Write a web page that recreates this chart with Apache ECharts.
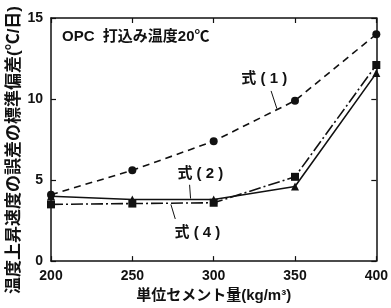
<!DOCTYPE html>
<html>
<head>
<meta charset="utf-8">
<script src="https://cdn.jsdelivr.net/npm/echarts@6/dist/echarts.min.js"></script>
<style>
  html, body { margin: 0; padding: 0; background: #fff; }
  #main { width: 391px; height: 308px; }
</style>
</head>
<body>
<div id="main"></div>
<script>
(function(){

  // 単位セメント量 (kg/m3)
  var cement = [200, 250, 300, 350, 400];
  // 式(1) 破線・丸
  var eq1 = [4.1, 5.6, 7.4, 9.9, 14.0];
  // 式(2) 実線・三角
  var eq2 = [4.0, 3.8, 3.8, 4.6, 11.6];
  // 式(4) 一点鎖線・四角
  var eq4 = [3.5, 3.55, 3.6, 5.2, 12.1];

  var xTicks = [200, 250, 300, 350, 400];
  var yTicks = [0, 5, 10, 15];

  var FONT = "'Liberation Sans', 'Noto Sans CJK JP', sans-serif";
  var INK = '#111';

  function pairs(ys){
    var out = [];
    for(var i=0; i<cement.length; i++){
      out.push([cement[i], ys[i]]);
    }
    return out;
  }

  function leader(a, b){
    return [{coord: a}, {coord: b}];
  }

  function note(text, at){
    return {
      coord: at,
      symbol: 'rect',
      symbolSize: 0,
      label: {
        show: true,
        position: 'inside',
        formatter: text,
        color: INK,
        fontFamily: FONT,
        fontWeight: 'bold',
        fontSize: 15
      }
    };
  }

  var axisBase = {
    type: 'value',
    axisLine: { show: true, onZero: false, lineStyle: { color: INK, width: 1.5 } },
    axisTick: { show: true, inside: true, length: 5, lineStyle: { color: INK, width: 1.2 } },
    splitLine: { show: false }
  };

  var option = {
    animation: false,
    backgroundColor: '#fff',
    grid: { left: 51, right: 9, top: 18, bottom: 42 },
    xAxis: [
      Object.assign({}, axisBase, {
        min: xTicks[0], max: xTicks[xTicks.length-1], interval: 50,
        position: 'bottom',
        axisLabel: { color: INK, fontFamily: FONT, fontWeight: 'bold', fontSize: 14, margin: 8 },
        name: '単位セメント量(kg/m³)',
        nameLocation: 'middle',
        nameGap: 26,
        nameTextStyle: { color: INK, fontFamily: FONT, fontWeight: 'bold', fontSize: 15 }
      }),
      Object.assign({}, axisBase, {
        min: xTicks[0], max: xTicks[xTicks.length-1], interval: 50,
        position: 'top',
        axisLabel: { show: false }
      })
    ],
    yAxis: [
      Object.assign({}, axisBase, {
        min: yTicks[0], max: yTicks[yTicks.length-1], interval: 5,
        position: 'left',
        axisLabel: { color: INK, fontFamily: FONT, fontWeight: 'bold', fontSize: 14, margin: 8 }
      }),
      Object.assign({}, axisBase, {
        min: yTicks[0], max: yTicks[yTicks.length-1], interval: 5,
        position: 'right',
        axisLabel: { show: false }
      })
    ],
    graphic: [
      {
        type: 'text',
        left: 62, top: 29,
        style: { text: 'OPC  打込み温度20℃', fill: INK, font: 'bold 15px ' + FONT }
      },
      {
        type: 'text',
        x: 14, y: 150,
        rotation: Math.PI / 2,
        style: {
          text: '温度上昇速度の誤差の標準偏差(℃/日)',
          fill: INK,
          font: 'bold 17px ' + FONT,
          align: 'center',
          verticalAlign: 'middle'
        }
      }
    ],
    series: [
      {
        name: '式(1)',
        type: 'line',
        data: pairs(eq1),
        symbol: 'circle',
        symbolSize: 8,
        itemStyle: { color: INK },
        lineStyle: { color: INK, width: 1.6, type: [7, 5] },
        markLine: {
          silent: true, symbol: ['none', 'none'], label: { show: false },
          lineStyle: { color: INK, width: 1, type: 'solid' },
          data: [leader([335.3, 10.5], [338.9, 9.4])]
        },
        markPoint: { silent: true, data: [note('式 ( 1 )', [331.1, 11.25])] }
      },
      {
        name: '式(2)',
        type: 'line',
        data: pairs(eq2),
        symbol: 'triangle',
        symbolSize: 8,
        itemStyle: { color: INK },
        lineStyle: { color: INK, width: 1.6, type: 'solid' },
        markLine: {
          silent: true, symbol: ['none', 'none'], label: { show: false },
          lineStyle: { color: INK, width: 1, type: 'solid' },
          data: [leader([285.2, 4.71], [285.8, 3.86])]
        },
        markPoint: { silent: true, data: [note('式 ( 2 )', [291.8, 5.37])] }
      },
      {
        name: '式(4)',
        type: 'line',
        data: pairs(eq4),
        symbol: 'rect',
        symbolSize: 8,
        itemStyle: { color: INK },
        lineStyle: { color: INK, width: 1.6, type: [12, 3, 2, 3] },
        markLine: {
          silent: true, symbol: ['none', 'none'], label: { show: false },
          lineStyle: { color: INK, width: 1, type: 'solid' },
          data: [leader([273.7, 3.5], [276.4, 2.6])]
        },
        markPoint: { silent: true, data: [note('式 ( 4 )', [290, 1.74])] }
      }
    ]
  };

  echarts.init(document.getElementById('main')).setOption(option);

})()
</script>
</body>
</html>
